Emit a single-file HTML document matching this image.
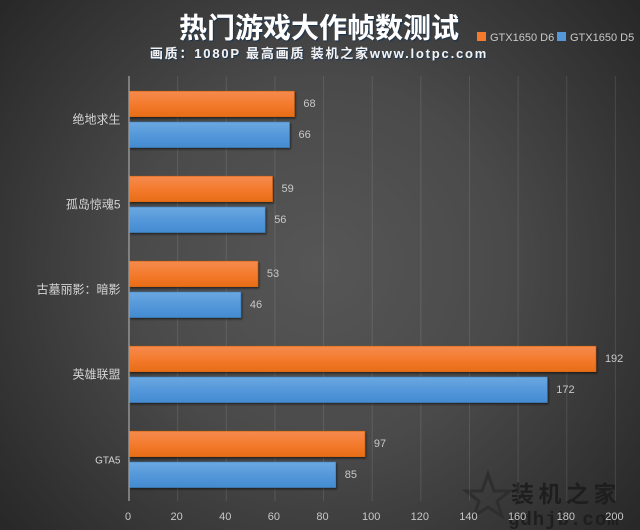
<!DOCTYPE html>
<html>
<head>
<meta charset="utf-8">
<style>
html,body{margin:0;padding:0;width:640px;height:530px;overflow:hidden;background:#3a3a3a}
svg{display:block}
text{font-family:"Liberation Sans","Noto Sans CJK SC",sans-serif}
</style>
</head>
<body>
<svg id="chart" xmlns="http://www.w3.org/2000/svg" width="640" height="530" viewBox="0 0 640 530">
<defs>
<radialGradient id="bg" gradientUnits="userSpaceOnUse" cx="320" cy="265" r="410">
<stop offset="0" stop-color="#565656"/><stop offset="0.45" stop-color="#4a4a4a"/><stop offset="1" stop-color="#282828"/>
</radialGradient>
<linearGradient id="orange" x1="0" y1="0" x2="0" y2="1">
<stop offset="0" stop-color="#f48a4f"/><stop offset="0.5" stop-color="#f47b2e"/><stop offset="1" stop-color="#e86c17"/>
</linearGradient>
<linearGradient id="blue" x1="0" y1="0" x2="0" y2="1">
<stop offset="0" stop-color="#6ba8e0"/><stop offset="0.5" stop-color="#5598da"/><stop offset="1" stop-color="#448bd0"/>
</linearGradient>
<filter id="titleShadow" x="-5%" y="-20%" width="110%" height="140%">
<feDropShadow dx="1" dy="1" stdDeviation="0.5" flood-color="#16304f" flood-opacity="1"/>
</filter>
<filter id="barShadow" x="-3%" y="-10%" width="106%" height="125%">
<feDropShadow dx="1" dy="1.5" stdDeviation="1" flood-color="#000" flood-opacity="0.55"/>
</filter>
</defs>
<rect width="640" height="530" fill="url(#bg)"/>
<text x="319" y="37.5" text-anchor="middle" font-size="28" font-weight="700" fill="#fff" filter="url(#titleShadow)">热门游戏大作帧数测试</text>
<text x="319" y="58" text-anchor="middle" font-size="13" font-weight="700" letter-spacing="1.8" fill="#f2f2f2" filter="url(#titleShadow)">画质：1080P 最高画质 装机之家www.lotpc.com</text>
<rect x="477" y="32" width="9" height="9" fill="#f47b2e"/>
<text x="490" y="41" font-size="11" fill="#c8c8c8">GTX1650 D6</text>
<rect x="557" y="32" width="9" height="9" fill="#5598da"/>
<text x="570" y="41" font-size="11" fill="#c8c8c8">GTX1650 D5</text>
<g>
<polygon points="488,474 494,491 510,491 497,501 502,516 488,507 474,516 479,501 466,491 482,491" fill="none" stroke="#2e2e2e" stroke-width="3"/>
<text x="511" y="502" font-size="23" font-weight="700" letter-spacing="4.5" fill="#1e1e1e">装机之家</text>
<text x="508" y="525" font-size="19" font-weight="700" letter-spacing="1" fill="#1e1e1e" style="font-family:'Liberation Mono',monospace">gdhjb.com</text>
</g>
<g id="plot"></g>
</svg>
<script>
const categories = ["绝地求生", "孤岛惊魂5", "古墓丽影：暗影", "英雄联盟", "GTA5"];
const seriesD6 = [68, 59, 53, 192, 97];
const seriesD5 = [66, 56, 46, 172, 85];
const xTicks = [0, 20, 40, 60, 80, 100, 120, 140, 160, 180, 200];

const svgNS = "http://www.w3.org/2000/svg";
const plot = document.getElementById("plot");
const plotLeft = 129, plotRight = 615.4, plotTop = 76, plotBottom = 501;
const xMax = 200;
function xScale(v) { return plotLeft + (v / xMax) * (plotRight - plotLeft); }
function bandTop(i) { return plotTop + i * (plotBottom - plotTop) / categories.length; }
function make(tag, attrs, text) {
  const el = document.createElementNS(svgNS, tag);
  for (const k in attrs) el.setAttribute(k, attrs[k]);
  if (text !== undefined) el.textContent = text;
  plot.appendChild(el);
  return el;
}
xTicks.forEach(function (t) {
  const x = xScale(t);
  if (t !== 0) {
    const g = make("line", {x1: x, x2: x, y1: plotTop, y2: plotBottom, stroke: "#ffffff", "stroke-opacity": 0.11, "stroke-width": 1});
    
    
  }
  const l = make("text", {x: x - 1, y: 520, "text-anchor": "middle", "font-size": 11, fill: "#c8c8c8"}, String(t));
  
  
});
function drawBar(v, y, fill, stroke) {
  const r = make("rect", {x: plotLeft, y: y, width: xScale(v) - plotLeft, height: 25.5, fill: fill, stroke: stroke, "stroke-width": 0.6, filter: "url(#barShadow)"});
  
  
  const t = make("text", {x: xScale(v) + 9, y: y + 16, "font-size": 11, fill: "#c8c8c8"}, String(v));
  
  
}
categories.forEach(function (c, i) {
  const top = bandTop(i);
  drawBar(seriesD6[i], top + 15.2, "url(#orange)", "#d9660f");
  drawBar(seriesD5[i], top + 46, "url(#blue)", "#3f80c0");
  const l = make("text", {x: 120.5, y: top + 47.5, "text-anchor": "end", "font-size": 12, fill: "#d4d4d4"}, c);
  if (c === "GTA5") l.setAttribute("font-size", "10");
  
  
});
const axis = make("line", {x1: plotLeft, x2: plotLeft, y1: plotTop, y2: plotBottom, stroke: "#9a9a9a", "stroke-width": 1.4});


</script>
</body>
</html>
